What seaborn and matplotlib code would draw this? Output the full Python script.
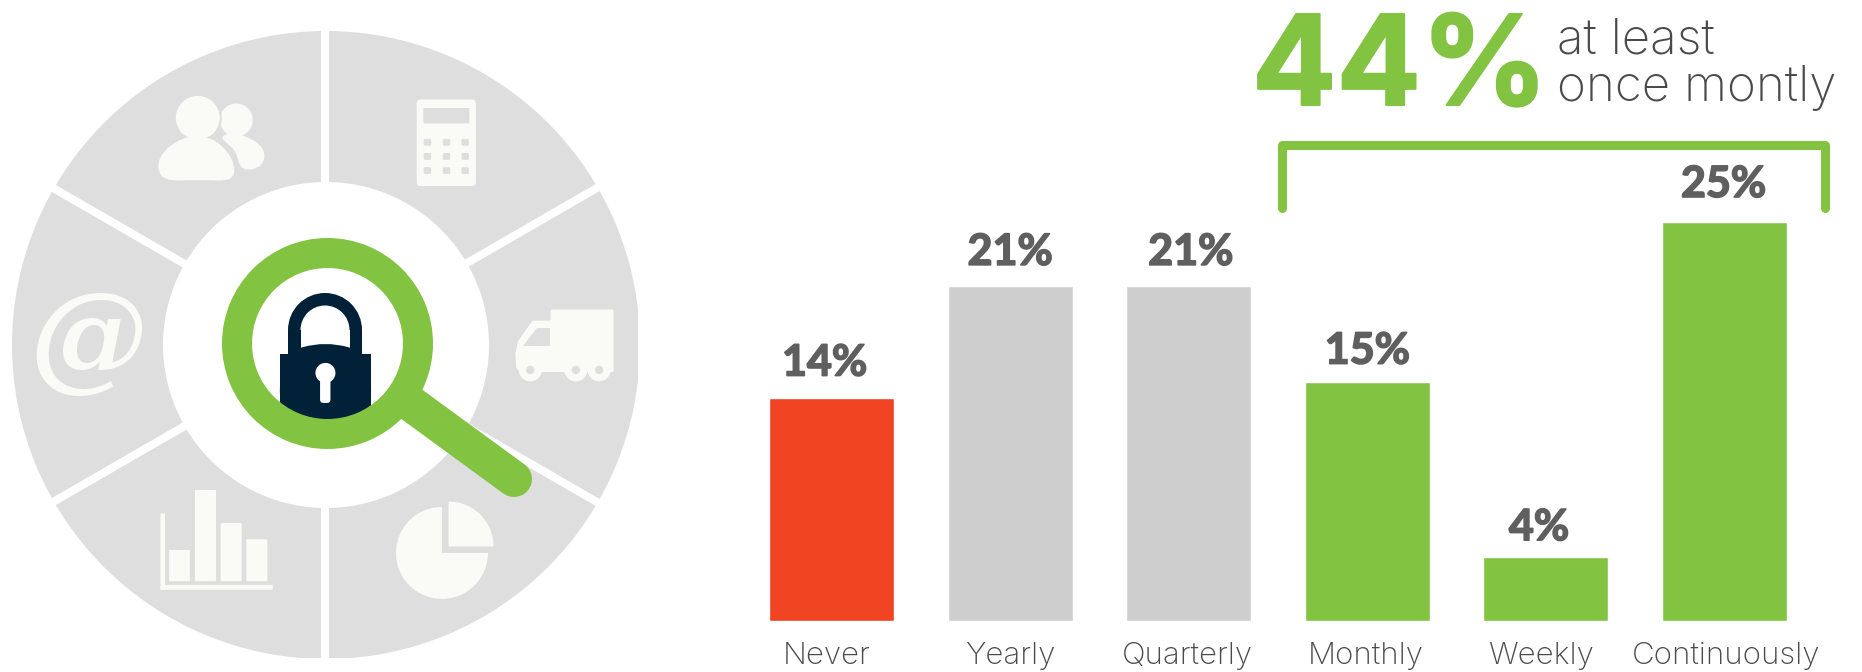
import math
import matplotlib
matplotlib.use("Agg")
import matplotlib.pyplot as plt
import matplotlib.patheffects as pe
from matplotlib.transforms import ScaledTranslation
import seaborn as sns
from matplotlib.patches import Circle, Wedge, Rectangle, FancyBboxPatch, PathPatch, Polygon
from matplotlib.path import Path

categories = ["Never", "Yearly", "Quarterly", "Monthly", "Weekly", "Continuously"]
values = [14, 21, 21, 15, 4, 25]
value_labels = ["14%", "21%", "21%", "15%", "4%", "25%"]
bar_colors = ["#f04423", "#cecece", "#cecece", "#82c341", "#82c341", "#82c341"]
headline = "44%"
headline_note = ["at least", "once montly"]

# label placement, in pixels
label_dx = [-7, 0, 2, 0, -7, -1]
label_gap = [22, 21, 21, 18, 17, 25]
tick_dx = [-5, 0, -1, -2, -5, 2]

GREEN = "#82c341"; GREY = "#dedede"; ICON = "#fafaf6"; NAVY = "#002138"
DARK = "#5f5f5f"; TXT = "#4a4a4a"
W, H = 1862, 672

sns.set_theme(style="white")
plt.rcParams["font.family"] = ["Lato", "DejaVu Sans"]
fig = plt.figure(figsize=(W / 100, H / 100), dpi=100, facecolor="white")

# bars
pitch = 178.6; x0 = 831.5; base = 621; unit = 15.96
ax = fig.add_axes([(x0 - pitch / 2) / W, (H - base) / H, 6 * pitch / W, base / H])
ax.patch.set_alpha(0)
sns.barplot(x=categories, y=values, hue=categories, palette=bar_colors, width=0.7,
            saturation=1, legend=False, dodge=False, ax=ax)
ax.set_xlim(-0.5, 5.5)
ax.set_ylim(0, base / unit)
ax.set_xlabel(""); ax.set_ylabel(""); ax.set_yticks([])
ax.tick_params(axis="x", length=0, pad=15, labelsize=22.5, labelcolor=TXT)
for t, dx in zip(ax.get_xticklabels(), tick_dx):
    t.set_fontfamily("Inter"); t.set_fontweight("light")
    t.set_transform(t.get_transform() + ScaledTranslation(dx / 100, 0, fig.dpi_scale_trans))
sns.despine(ax=ax, left=True, bottom=True)
for i, (v, lab) in enumerate(zip(values, value_labels)):
    ax.annotate(lab, (i, v), xytext=(label_dx[i] * 0.72, label_gap[i] * 0.72), textcoords="offset points",
                ha="center", va="baseline", fontsize=31, fontweight="bold", color=DARK, zorder=5,
                path_effects=[pe.withStroke(linewidth=1.2, foreground=DARK)])

# overlay in pixel units
ov = fig.add_axes([0, 0, 1, 1], zorder=3)
ov.patch.set_alpha(0)
ov.set_xlim(0, W); ov.set_ylim(H, 0); ov.axis("off")

zx = lambda x: x / 2.412
zy = lambda y: y / 2.333
def add(p, clip=None):
    ov.add_patch(p)
    if clip is not None:
        p.set_clip_path(clip)
    return p
def blob(pts, **kw):
    pts = [(zx(a), zy(b)) for a, b in pts]
    n = len(pts)
    mid = lambda a, b: ((a[0] + b[0]) / 2, (a[1] + b[1]) / 2)
    verts = [mid(pts[-1], pts[0])]; codes = [Path.MOVETO]
    for i in range(n):
        verts += [pts[i], mid(pts[i], pts[(i + 1) % n])]
        codes += [Path.CURVE3, Path.CURVE3]
    return add(PathPatch(Path(verts, codes), **kw))
def rrect(x1, y1, x2, y2, color, r=2):
    a, b, c, d = zx(x1), zy(y1), zx(x2), zy(y2)
    return add(FancyBboxPatch((a + r, b + r), c - a - 2 * r, d - b - 2 * r,
                              boxstyle=f"round,pad={r},rounding_size={r}", fc=color, ec="none"))

# wheel
cx, cy, R, r = 325, 345, 314, 163
add(Wedge((cx + 1, cy), R, 0, 360, fc=GREY, ec="none"))
for ang in (90, 30, -30):
    dx, dy = math.cos(math.radians(ang)) * (R + 10), math.sin(math.radians(ang)) * (R + 10)
    ov.plot([cx - dx, cx + dx], [cy - dy, cy + dy], color="white", lw=8 * 0.72,
            solid_capstyle="butt", zorder=1)
add(Circle((cx + 1, cy), r, fc="white", ec="none"))
add(Rectangle((638, 0), 40, H, fc="white", ec="none"))
add(Rectangle((0, 658), 640, 20, fc="white", ec="none"))

# people icon
add(Circle((zx(570), zy(280)), 16.5, fc=ICON, ec="none"))
blob([(590, 315), (640, 345), (635, 390), (580, 400), (570, 350), (530, 322), (550, 310)], fc=ICON, ec="none")
add(Circle((zx(477), zy(275)), 23, fc=ICON, ec=GREY, lw=1.5))
blob([(440, 315), (375, 365), (385, 425), (480, 422), (570, 425), (565, 365), (510, 315)], fc=ICON, ec=GREY, lw=1.5)
add(Circle((zx(477), zy(275)), 21.5, fc=ICON, ec="none"))

# calculator
rrect(1005, 232, 1148, 434, ICON, 4)
rrect(1021, 252, 1132, 288, GREY, 1)
for yy in (332, 365, 398):
    for xx in (1031, 1077, 1122):
        rrect(xx - 9, yy - 8, xx + 9, yy + 8, GREY, 1.5)

# truck
rrect(1328, 722, 1480, 868, ICON, 1.5)
add(Polygon([(zx(a), zy(b)) for a, b in [(1330, 748), (1285, 748), (1250, 795), (1243, 825), (1245, 858),
                                         (1255, 868), (1330, 868)]], fc=ICON, ec="none"))
add(Polygon([(zx(a), zy(b)) for a, b in [(1295, 765), (1326, 765), (1326, 808), (1262, 808)]], fc=GREY, ec="none"))
for xx in (1279, 1389, 1445):
    add(Circle((zx(xx), zy(863)), 11.5, fc=ICON, ec="none"))
    add(Circle((zx(xx), zy(863)), 4.2, fc=GREY, ec="none"))

# at sign
ov.text(zx(212), zy(800), "@", ha="center", va="center", fontsize=85, style="italic", fontweight="bold",
        family="DejaVu Serif", color=ICON)

# small bar icon
rrect(387, 1198, 398, 1375, ICON, 1)
rrect(387, 1365, 658, 1376, ICON, 1)
for a, b, t in [(408, 458, 1283), (470, 521, 1143), (532, 583, 1220), (594, 645, 1258)]:
    rrect(a, t, b, 1356, ICON, 1)

# pie icon
add(Wedge((zx(1066), zy(1290)), 46, 0, 270, fc=ICON, ec="none"))
add(Wedge((zx(1082), zy(1275)), 45, 270, 360, fc=ICON, ec="none"))

# handle over the wheel, then the lens
lc = (327.5, 343.5)
ov.plot([410, 514], [403, 479], color=GREEN, lw=36 * 0.72, solid_capstyle="round", zorder=1)
add(Circle(lc, 76, fc="white", ec="none"))
lens_clip = Circle(lc, 76, transform=ov.transData)
# shackle + body
add(Wedge((325, 330), 37, 180, 360, fc=NAVY, ec="none"))
add(Rectangle((288, 330), 74, 26, fc=NAVY, ec="none"))
add(Wedge((325, 330), 24.5, 180, 360, fc="white", ec="none"))
add(Rectangle((300.5, 330), 49, 19, fc="white", ec="none"))
blob([(675, 825), (785, 795), (895, 825), (895, 1000), (675, 1000)], fc=NAVY, ec="none").set_clip_path(lens_clip)
add(Rectangle((280, 354), 91, 70, fc=NAVY, ec="none"), lens_clip)
add(Circle((zx(785), zy(870)), 10, fc="white", ec="none"))
rrect(772, 880, 797, 940, "white", 3)
add(Wedge(lc, 105.5, 0, 360, width=30, fc=GREEN, ec="none"))

# bracket and headline
ov.plot([1281.5, 1281.5, 1824.5, 1824.5], [208, 145, 145, 208], color=GREEN, lw=9 * 0.72,
        solid_capstyle="round", solid_joinstyle="round")
ov.text(1400, 105, headline, ha="center", va="baseline", fontsize=90, fontweight="bold", family="Inter",
        color=GREEN, path_effects=[pe.withStroke(linewidth=1.5, foreground=GREEN)])
ov.text(1557, 53, headline_note[0], ha="left", va="baseline", fontsize=35.5, family="Inter",
        fontweight="light", color=TXT)
ov.text(1557, 101, headline_note[1], ha="left", va="baseline", fontsize=35.5, family="Inter",
        fontweight="light", color=TXT)

fig.savefig("out.png", dpi=100, facecolor="white")
